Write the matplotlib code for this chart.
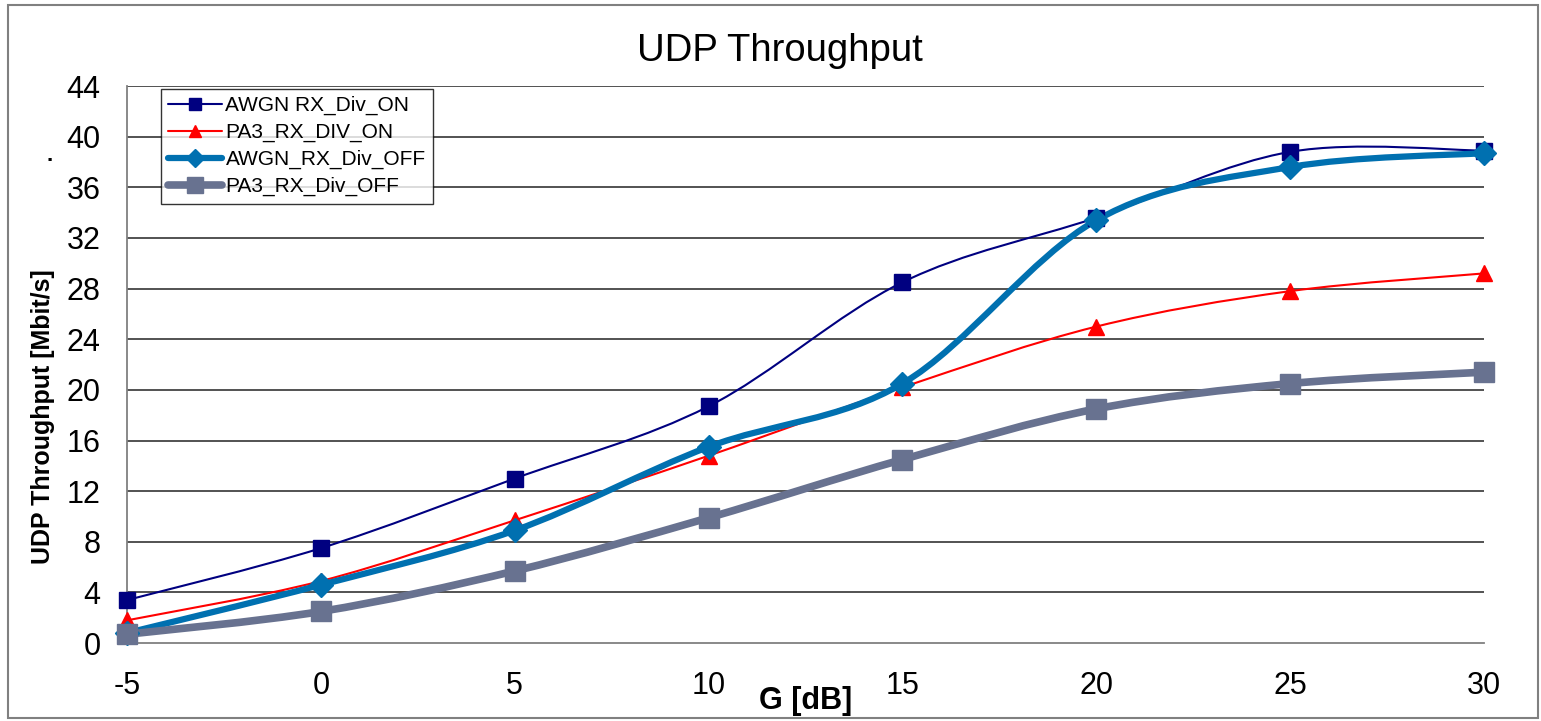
import numpy as np
import matplotlib
matplotlib.use('Agg')
import matplotlib.pyplot as plt
from matplotlib.path import Path
from matplotlib.patches import PathPatch, Rectangle
from matplotlib.lines import Line2D

plt.rcParams['font.family'] = ['Liberation Sans', 'DejaVu Sans']
plt.rcParams['axes.unicode_minus'] = False

# data
gain_db = [-5, 0, 5, 10, 15, 20, 25, 30]
awgn_div_on = [3.4, 7.5, 13.0, 18.7, 28.5, 33.6, 38.8, 38.9]
pa3_div_on = [1.8, 4.9, 9.7, 14.8, 20.2, 25.0, 27.8, 29.2]
awgn_div_off = [0.8, 4.6, 8.9, 15.5, 20.5, 33.4, 37.6, 38.7]
pa3_div_off = [0.7, 2.5, 5.7, 9.9, 14.5, 18.5, 20.5, 21.4]

labels = ['AWGN RX_Div_ON', 'PA3_RX_DIV_ON', 'AWGN_RX_Div_OFF', 'PA3_RX_Div_OFF']
y_ticks = list(range(0, 45, 4))
x_ticks = [-5, 0, 5, 10, 15, 20, 25, 30]


def smooth_path(x, y):
    # excel-like smoothed line: catmull-rom segments as cubic beziers
    pts = np.column_stack([x, y]).astype(float)
    n = len(pts)
    verts = [pts[0]]
    codes = [Path.MOVETO]
    for i in range(n - 1):
        p0 = pts[i - 1] if i > 0 else pts[i]
        p1 = pts[i]
        p2 = pts[i + 1]
        p3 = pts[i + 2] if i + 2 < n else pts[i + 1]
        c1 = p1 + (p2 - p0) / 6.0
        c2 = p2 - (p3 - p1) / 6.0
        verts += [c1, c2, p2]
        codes += [Path.CURVE4] * 3
    return Path(verts, codes)


fig = plt.figure(figsize=(15.41, 7.21), dpi=100)
fig.patches.append(Rectangle((0.005, 0.004), 0.993, 0.989, transform=fig.transFigure,
                             fill=False, edgecolor='#808080', linewidth=1.5))
ax = fig.add_axes([0.0824, 0.108, 0.8806, 0.7727])

for yy in y_ticks[1:]:
    ax.axhline(yy, color='#444444', linewidth=1.3, zorder=1)

series = [
    (awgn_div_on, '#000080', 1.5, 's', 11),
    (pa3_div_on, '#ff0000', 1.5, '^', 11),
    (awgn_div_off, '#0070b0', 4.5, 'D', 12),
    (pa3_div_off, '#687290', 5.5, 's', 15),
]

handles = []
for (vals, col, lw, mk, ms), lab in zip(series, labels):
    patch = PathPatch(smooth_path(gain_db, vals), facecolor='none', edgecolor=col,
                      linewidth=lw, capstyle='round', joinstyle='round', zorder=3)
    ax.add_patch(patch)
    ax.plot(gain_db, vals, linestyle='none', marker=mk, markersize=ms, color=col,
            markeredgecolor=col, zorder=4, clip_on=False)
    handles.append(Line2D([], [], color=col, linewidth=lw, marker=mk,
                          markersize=ms * 0.75, solid_capstyle='round'))

ax.set_xlim(-5, 30)
ax.set_ylim(0, 44)
ax.set_xticks(x_ticks)
ax.set_yticks(y_ticks)
ax.tick_params(axis='both', length=0, labelsize=22)
ax.tick_params(axis='x', pad=20)
ax.tick_params(axis='y', pad=19)
for s in ['top', 'right']:
    ax.spines[s].set_visible(False)
ax.spines['left'].set_color('#808080')
ax.spines['left'].set_linewidth(1.3)
ax.spines['bottom'].set_color('#808080')
ax.spines['bottom'].set_linewidth(1.3)

fig.text(0.506, 0.929, 'UDP Throughput', fontsize=27.5, ha='center', va='center')
fig.text(0.523, 0.028, 'G [dB]', fontsize=22, fontweight='bold', ha='center', va='center')
fig.text(0.028, 0.422, 'UDP Throughput [Mbit/s]', fontsize=18, fontweight='bold',
         rotation=90, ha='center', va='center')
fig.text(0.032, 0.785, '.', fontsize=16, fontweight='bold', ha='center', va='center')

leg = ax.legend(handles, labels, loc='upper left', bbox_to_anchor=(0.025, 0.995),
                fontsize=15, frameon=True, fancybox=False, handlelength=2.6,
                borderaxespad=0, labelspacing=0.37, handletextpad=0.15, borderpad=0.35)
leg.get_frame().set_edgecolor('black')
leg.get_frame().set_linewidth(1.0)

fig.savefig('out.png', dpi=100)
